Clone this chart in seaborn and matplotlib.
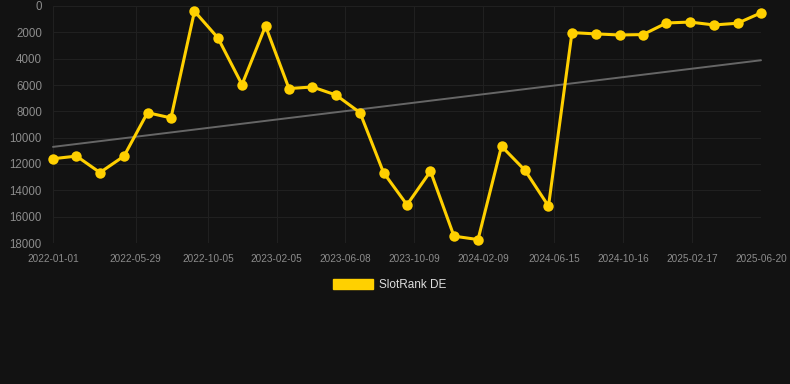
import pandas as pd
import numpy as np
import matplotlib
matplotlib.use('Agg')
import matplotlib.pyplot as plt
from matplotlib.patches import Patch
import seaborn as sns

# data
dates = ['2022-01-01', '2022-02-12', '2022-03-26', '2022-05-08', '2022-06-19', '2022-07-31',
         '2022-09-11', '2022-10-23', '2022-12-05', '2023-01-16', '2023-02-27', '2023-04-10',
         '2023-05-22', '2023-07-04', '2023-08-15', '2023-09-26', '2023-11-07', '2023-12-19',
         '2024-01-31', '2024-03-13', '2024-04-24', '2024-06-05', '2024-07-17', '2024-08-29',
         '2024-10-10', '2024-11-21', '2025-01-02', '2025-02-13', '2025-03-28', '2025-05-09',
         '2025-06-20']
rank = [11600, 11400, 12650, 11400, 8100, 8500, 400, 2430, 5970, 1520, 6270, 6150,
        6760, 8100, 12650, 15100, 12550, 17480, 17740, 10650, 12480, 15200, 2020, 2120,
        2200, 2170, 1290, 1220, 1440, 1310, 520]
trend_dates = ['2022-01-01', '2025-06-20']
trend_vals = [10700, 4120]
tick_dates = ['2022-01-01', '2022-05-29', '2022-10-05', '2023-02-05', '2023-06-08', '2023-10-09',
              '2024-02-09', '2024-06-15', '2024-10-16', '2025-02-17', '2025-06-20']
y_ticks = [0, 2000, 4000, 6000, 8000, 10000, 12000, 14000, 16000, 18000]

df = pd.DataFrame({'date': pd.to_datetime(dates), 'rank': rank})
trend = pd.DataFrame({'date': pd.to_datetime(trend_dates), 'rank': trend_vals})

bg = '#121212'
gold = '#FFD000'

sns.set_theme(style='dark', rc={'figure.facecolor': bg, 'axes.facecolor': bg})
plt.rcParams['font.family'] = ['Liberation Sans', 'DejaVu Sans']

fig = plt.figure(figsize=(7.9, 3.84), dpi=100)
ax = fig.add_axes([53/790, 1 - 243/384, (761 - 53)/790, (243 - 6)/384])

# gray trend line
sns.lineplot(data=trend, x='date', y='rank', color='#666666', linewidth=1.4, ax=ax)
# main series
sns.lineplot(data=df, x='date', y='rank', color=gold, linewidth=2.2, marker='o',
             markersize=7.5, markeredgewidth=0, ax=ax)

ax.set_ylim(18000, 0)
ax.set_xlim(pd.Timestamp(tick_dates[0]), pd.Timestamp(tick_dates[-1]))
ax.set_yticks(y_ticks)
ax.set_yticklabels([str(v) for v in y_ticks], fontsize=8.3, color='#8c8c8c')
ax.set_xticks(pd.to_datetime(tick_dates))
ax.set_xticklabels(tick_dates, fontsize=7.2, color='#8c8c8c')
ax.set_xlabel('')
ax.set_ylabel('')

ax.grid(True, color='#202020', linewidth=0.8)
for s in ax.spines.values():
    s.set_visible(False)
ax.tick_params(axis='x', length=4, color='#202020', pad=4)
ax.tick_params(axis='y', length=5, color='#202020', pad=3)
for line in ax.lines:
    line.set_clip_on(False)

# legend below the chart
handle = Patch(facecolor=gold, edgecolor=gold)
fig.legend([handle], ['SlotRank DE'], loc='center', bbox_to_anchor=(390/790, 1 - 285/384),
           frameon=False, fontsize=8.5, labelcolor='#dddddd', handlelength=3.4,
           handleheight=1.0, handletextpad=0.5)

fig.savefig('out.png', dpi=100, facecolor=bg)
